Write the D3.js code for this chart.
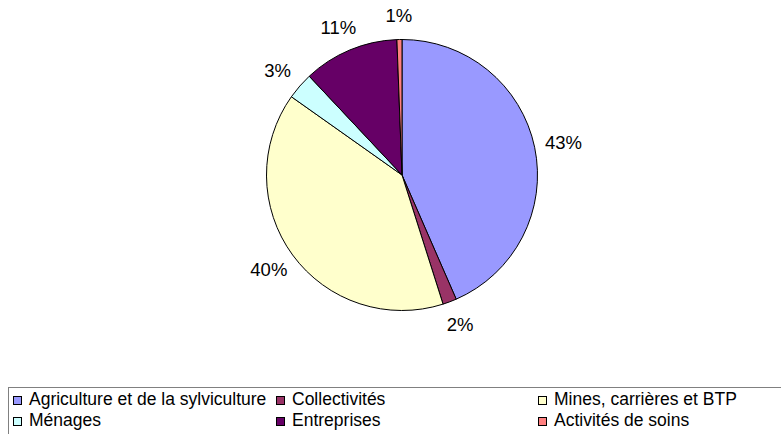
<!DOCTYPE html>
<html>
<head>
<meta charset="utf-8">
<script src="https://cdn.jsdelivr.net/npm/d3@7"></script>
<style>
  html, body { margin: 0; padding: 0; background: #fff; }
  svg { display: block; font-family: Arial, "Liberation Sans", sans-serif; }
</style>
</head>
<body>
<svg id="chart" width="781" height="434"></svg>
<script>
const categories = [
  "Agriculture et de la sylviculture",
  "Collectivités",
  "Mines, carrières et BTP",
  "Ménages",
  "Entreprises",
  "Activités de soins"
];
const values = [43.45, 1.65, 39.7, 3.2, 11.4, 0.6];
const colors = ["#9999FF", "#993366", "#FFFFCC", "#CCFFFF", "#660066", "#FF8080"];

const svg = d3.select("#chart");
const cx = 402, cy = 175, R = 135.5;

const data = categories.map((c, i) => ({ name: c, value: values[i], color: colors[i] }));
const total = d3.sum(values);

const pie = d3.pie().sort(null).value(d => d.value);
const arcs = pie(data);
const arc = d3.arc().innerRadius(0).outerRadius(R);

const g = svg.append("g").attr("transform", `translate(${cx},${cy})`);
g.selectAll("path.slice")
  .data(arcs)
  .join("path")
  .attr("class", "slice")
  .attr("d", arc)
  .attr("fill", d => d.data.color)
  .attr("stroke", "#000")
  .attr("stroke-width", 1)
  .attr("stroke-linejoin", "round");

const lrx = 165, lry = 160;
g.selectAll("text.lbl")
  .data(arcs)
  .join("text")
  .attr("class", "lbl")
  .attr("transform", d => {
    const m = (d.startAngle + d.endAngle) / 2;
    return `translate(${lrx * Math.sin(m)},${-lry * Math.cos(m)})`;
  })
  .attr("text-anchor", "middle")
  .attr("dy", "0.36em")
  .attr("font-size", 18.5)
  .attr("fill", "#000")
  .text(d => d3.format(".0%")(d.data.value / total));

// Legend
const legend = svg.append("g");
legend.append("rect")
  .attr("x", 8.5).attr("y", 387.5)
  .attr("width", 800).attr("height", 80)
  .attr("fill", "#fff")
  .attr("stroke", "#808080")
  .attr("stroke-width", 1);

const colX = [13, 276, 538];
const rowY = [405, 426];
const items = legend.selectAll("g.item")
  .data(data)
  .join("g")
  .attr("class", "item")
  .attr("transform", (d, i) => `translate(${colX[i % 3]},${rowY[Math.floor(i / 3)]})`);

items.append("rect")
  .attr("x", 0.5).attr("y", -8.5)
  .attr("width", 8).attr("height", 8)
  .attr("fill", d => d.color)
  .attr("stroke", "#000")
  .attr("stroke-width", 1);

items.append("text")
  .attr("x", 16)
  .attr("y", 0)
  .attr("font-size", 17.5)
  .attr("fill", "#000")
  .text(d => d.name);
</script>
</body>
</html>
